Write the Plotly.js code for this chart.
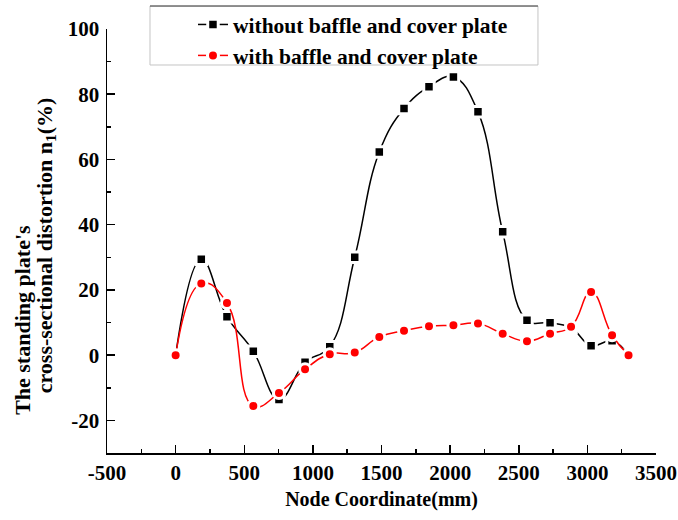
<!DOCTYPE html>
<html>
<head>
<meta charset="utf-8">
<script src="https://cdn.plot.ly/plotly-3.0.1.min.js"></script>
<style>html,body{margin:0;padding:0;background:#fff;}#chart{width:678px;height:520px;}</style>
</head>
<body>
<div id="chart"></div>
<script>
var nodeX = [0, 187, 374, 566, 753, 943, 1123, 1305, 1484, 1664, 1846, 2024, 2203, 2383, 2560, 2728, 2881, 3027, 3180, 3300];
var withoutBaffle = [0, 29.4, 11.8, 1.2, -13.6, -2.2, 2.6, 30, 62.3, 75.6, 82.3, 85.3, 74.6, 37.8, 10.7, 9.9, 8.4, 2.9, 4.4, 0];
var withBaffle = [0, 22, 16, -15.6, -11.6, -4.3, 0.3, 0.8, 5.6, 7.5, 8.9, 9.2, 9.7, 6.6, 4.3, 6.6, 8.7, 19.4, 6.1, 0];
var seriesNames = ["without baffle and cover plate", "with baffle and cover plate"];
var xTickVals = [-500, 0, 500, 1000, 1500, 2000, 2500, 3000, 3500];
var xTickText = ["-500", "0", "500", "1000", "1500", "2000", "2500", "3000", "3500"];
var yTickVals = [-20, 0, 20, 40, 60, 80, 100];
var yTickText = ["-20", "0", "20", "40", "60", "80", "100"];
var xTitle = "Node Coordinate(mm)";
var yTitleLine1 = "The standing plate's";
var yTitleLine2 = "cross-sectional distortion n<sub>1</sub>(%)";

var FONT = "Liberation Serif, Times New Roman, serif";
function f(size) { return {family: FONT, size: size, color: "#000", weight: "bold"}; }

var traces = [
  {
    x: nodeX, y: withoutBaffle, name: seriesNames[0], type: "scatter", mode: "lines+markers",
    line: {color: "#000000", width: 1.5, shape: "spline", smoothing: 1.2},
    marker: {symbol: "square", size: 10.5, color: "#000000", line: {color: "#ffffff", width: 3}}
  },
  {
    x: nodeX, y: withBaffle, name: seriesNames[1], type: "scatter", mode: "lines+markers",
    line: {color: "#ff0000", width: 1.5, shape: "spline", smoothing: 1.3},
    marker: {symbol: "circle", size: 11, color: "#ff0000", line: {color: "#ffffff", width: 3}}
  }
];

var layout = {
  width: 678, height: 520,
  margin: {l: 107, r: 22, t: 29, b: 67, autoexpand: false},
  paper_bgcolor: "#fff", plot_bgcolor: "#fff",
  font: f(20),
  showlegend: true,
  legend: {
    x: 0.1566, y: 1.059, xanchor: "left", yanchor: "top",
    bgcolor: "rgba(0,0,0,0)", borderwidth: 0,
    font: f(21.5),
    tracegroupgap: 0
  },
  shapes: [
    {type: "rect", xref: "paper", yref: "paper", x0: 0.0783, x1: 0.785, y0: 0.9151, y1: 1.0542,
     line: {color: "#c4c4c4", width: 1}, fillcolor: "rgba(0,0,0,0)", layer: "below"},
    {type: "line", xref: "paper", yref: "paper", x0: 0.0783, x1: 0.785, y0: 1.0542, y1: 1.0542,
     line: {color: "#3c3c3c", width: 1}, layer: "below"}
  ],
  xaxis: {
    range: [-500, 3500], tickmode: "array", tickvals: xTickVals, ticktext: xTickText,
    showgrid: false, zeroline: false,
    showline: true, linecolor: "#000", linewidth: 1.5,
    ticks: "inside", ticklen: 8, tickwidth: 1.5, tickcolor: "#000",
    tickfont: f(21),
    minor: {tickmode: "linear", tick0: 0, dtick: 250, ticks: "inside", ticklen: 4, tickwidth: 1.5, tickcolor: "#000", showgrid: false},
    title: {text: xTitle, font: f(20), standoff: 8}
  },
  yaxis: {
    range: [-30, 100], tickmode: "array", tickvals: yTickVals, ticktext: yTickText,
    showgrid: false, zeroline: false,
    showline: true, linecolor: "#000", linewidth: 1.5,
    ticks: "inside", ticklen: 8, tickwidth: 1.5, tickcolor: "#000",
    tickfont: f(21), ticklabelstandoff: 2,
    minor: {tickmode: "linear", tick0: 0, dtick: 10, ticks: "inside", ticklen: 4, tickwidth: 1.5, tickcolor: "#000", showgrid: false}
  },
  annotations: [
    {text: yTitleLine1, xref: "paper", yref: "paper", x: -0.153, y: 0.314, xanchor: "center", yanchor: "middle",
     textangle: -90, showarrow: false, font: f(22)},
    {text: yTitleLine2, xref: "paper", yref: "paper", x: -0.111, y: 0.49, xanchor: "center", yanchor: "middle",
     textangle: -90, showarrow: false, font: f(22)}
  ]
};

Plotly.newPlot("chart", traces, layout, {displayModeBar: false, staticPlot: true});
</script>
</body>
</html>
